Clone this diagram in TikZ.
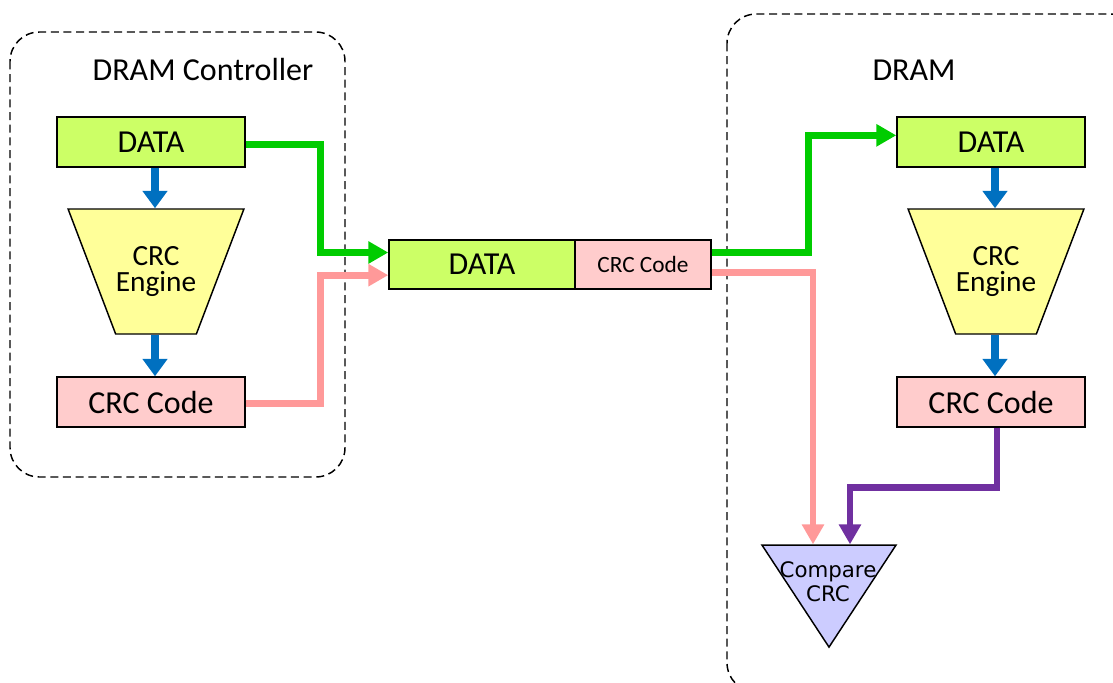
\documentclass[tikz,border=0pt]{standalone}
\usepackage{fontspec}
\setmainfont{Carlito}
\newfontfamily\cmpfont{DejaVu Sans}
\usetikzlibrary{arrows.meta,shapes.geometric,positioning,calc}

\definecolor{datagreen}{HTML}{CCFF66}
\definecolor{engyellow}{HTML}{FFFF99}
\definecolor{codepink}{HTML}{FFCCCC}
\definecolor{cmpblue}{HTML}{CCCCFF}
\definecolor{flowblue}{HTML}{0070C0}
\definecolor{linegreen}{HTML}{00CC00}
\definecolor{linepink}{HTML}{FF9999}
\definecolor{linepurple}{HTML}{7030A0}

\begin{document}
\begin{tikzpicture}[x=0.75pt, y=-0.75pt,
    blk/.style={draw, line width=1.1pt, minimum width=141pt, minimum height=37.5pt, inner sep=0pt, font=\fontsize{24}{26}\selectfont},
    datablk/.style={blk, fill=datagreen},
    codeblk/.style={blk, fill=codepink},
    eng/.style={draw, line width=1.1pt, fill=engyellow, trapezium, shape border rotate=180, trapezium stretches=true, trapezium angle=47, minimum width=132pt, minimum height=93.75pt, inner sep=0pt, align=center, font=\fontsize{22}{20}\selectfont},
    cmp/.style={draw, line width=1.1pt, fill=cmpblue, isosceles triangle, isosceles triangle stretches=true, shape border rotate=270, minimum width=100.5pt, minimum height=76.5pt, inner sep=0pt},
    grp/.style={draw, dashed, dash pattern=on 6pt off 3.5pt, line width=1.1pt, rounded corners=22pt},
    down/.style={-{Triangle[width=18pt, length=13pt]}, line width=6pt, flowblue},
    wire/.style={-{Triangle[width=16pt, length=15pt]}, line width=5pt},
    lbl/.style={font=\fontsize{24}{26}\selectfont}
]
\useasboundingbox (0,0) rectangle (1113,682);
\clip (0,0) rectangle (1113,682);

% groups
\draw[grp] (10,32) rectangle (345,477);
\draw[grp] (727,14) rectangle (1140,692);
\node[lbl] (ctl) at (203,70) {DRAM Controller};
\node[lbl] (dram) at (914,70) {DRAM};

% controller side
\node[datablk] (ldata) at (151,142) {DATA};
\node[eng] (leng) at (156,271.5) {CRC\\Engine};
\node[codeblk] (lcode) at (151,402) {CRC Code};
\draw[down] ([xshift=3pt]ldata.south) -- ([xshift=3pt]ldata.south |- leng.north);
\draw[down] ([xshift=3pt]ldata.south |- leng.south) -- ([xshift=3pt]lcode.north);

% bus
\node[datablk, minimum width=139.5pt, minimum height=36.75pt] (mdata) at (482,264.5) {DATA};
\node[codeblk, minimum width=102pt, minimum height=36.75pt, font=\fontsize{17.5}{20}\selectfont] (mcrc) at (643,264.5) {CRC Code};

% dram side
\node[datablk] (rdata) at (991,142) {DATA};
\node[eng] (reng) at (996,271.5) {CRC\\Engine};
\node[codeblk] (rcode) at (991,402) {CRC Code};
\node[cmp, anchor=apex] (cmpt) at (829,649) {};
\node[font=\cmpfont\fontsize{16}{18}\selectfont, align=center] (cmptxt) at (828,582) {Compare\\CRC};
\draw[down] ([xshift=3pt]rdata.south) -- ([xshift=3pt]rdata.south |- reng.north);
\draw[down] ([xshift=3pt]rdata.south |- reng.south) -- ([xshift=3pt]rcode.north);

% wires
\draw[wire, linegreen] ([yshift=-2pt]ldata.east) -- ++(75,0) |- ([yshift=9pt]mdata.west);
\draw[wire, linepink] ([yshift=-1pt]lcode.east) -- ++(75,0) |- ([yshift=-8pt]mdata.west);
\draw[wire, linegreen] ([yshift=9pt]mcrc.east) -- ++(97,0) |- ([yshift=5pt]rdata.west);
\draw[wire, linepink] ([yshift=-6pt]mcrc.east) -| ([xshift=-12pt]cmpt.north);
\draw[wire, linepurple] ([xshift=4.5pt]rcode.south) -- ++(0,60) -| ([xshift=15.75pt]cmpt.north);
\end{tikzpicture}
\end{document}
